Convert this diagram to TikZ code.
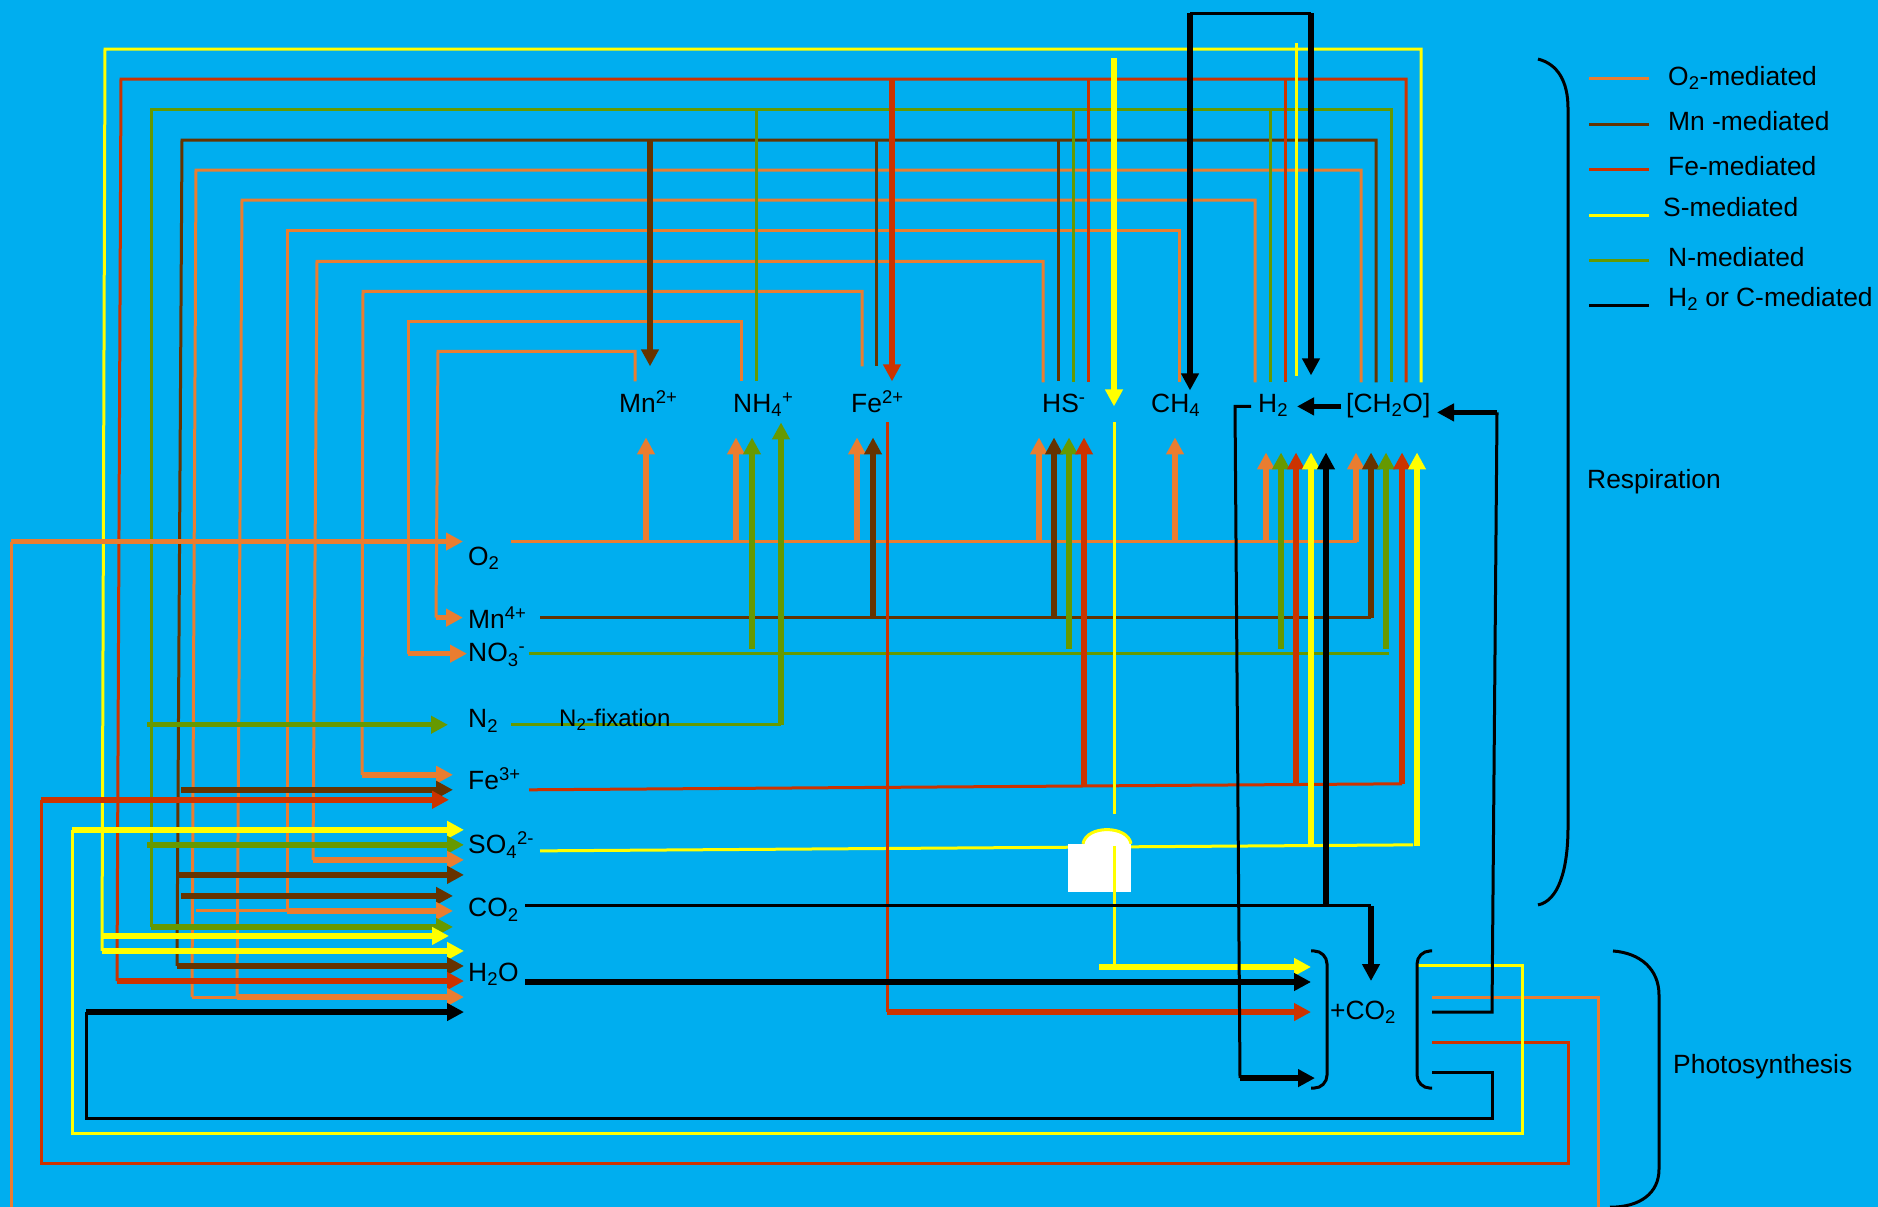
\documentclass[tikz,border=0pt]{standalone}
\usepackage{fontspec}
\setmainfont{Liberation Sans}
\usetikzlibrary{arrows.meta}

\definecolor{sea}{HTML}{00AEEF}
\definecolor{oxy}{HTML}{EA7D30}
\definecolor{man}{HTML}{663300}
\definecolor{iro}{HTML}{CC3300}
\definecolor{sul}{HTML}{FFFF00}
\definecolor{nit}{HTML}{669900}

\begin{document}
\begin{tikzpicture}[
        x=1pt, y=-1.001pt,
        >={Triangle[length=17pt,width=17pt]},
        wire/.style={line width=3pt},
        flow/.style={->, line width=5.5pt},
        curly/.style={line width=3pt, draw=black},
        species/.style={anchor=base west, inner sep=0pt, font=\fontsize{26.4}{30}\selectfont}
    ]

    \useasboundingbox (0,0) rectangle (1878,1204.8);
    \fill[sea] (-2,-2) rectangle (1880,1208);

    % loops from the right-hand column back to the left-hand column
    \foreach \nm/\col/\xb/\yb/\xt/\yt/\xr/\ye in {
        lpS/sul/102/950/105/49/1421/382, lpFe/iro/117/980/121/79/1406/382,
        lpN/nit/151/926/151/109/1391/382, lpMn/man/177/965/182/140/1376/382,
        lpA/oxy/192/996/196/170/1361/382, lpB/oxy/237/996/242/200/1255/382,
        lpC/oxy/287/910/287/230/1179/382, lpD/oxy/313/859/317/261/1043/382,
        lpE/oxy/362/774/363/291/862/366, lpF/oxy/408/653/408/321/741/381,
        lpG/oxy/436/617/438/351/635/381}{
        \coordinate (\nm s) at (\xb,\yb);
        \coordinate (\nm t) at (\xt,\yt);
        \coordinate (\nm u) at (\xr,\yt);
        \coordinate (\nm v) at (\xr,\ye);
        \draw[wire, draw=\col] (\nm s) -- (\nm t) -- (\nm u) -- (\nm v);
    }

    % thin straight wires
    \foreach \nm/\col/\xa/\ya/\xb/\yb in {
        nNH/nit/756/109/756/381, nHS/nit/1073/109/1073/382, nH/nit/1270/109/1270/382,
        feHS/iro/1088/79/1088/382, feH/iro/1285/79/1285/382,
        mnFe/man/876/140/876/366, mnHS/man/1058/140/1058/381,
        sH/sul/1296/43/1296/376,
        footA/oxy/192/996/237/996, footC/oxy/196/910/287/910,
        oLine/oxy/511/541/1357/541, mnLine/man/540/617/1371/617,
        noLine/nit/529/653/1389/653, fixLine/nit/511/724/781/724,
        feLine/iro/529/789/1402/783, soLine/sul/540/850/1413/844}{
        \coordinate (\nm a) at (\xa,\ya);
        \coordinate (\nm b) at (\xb,\yb);
        \draw[wire, draw=\col] (\nm a) -- (\nm b);
    }

    % the white cell
    \fill[white] (1068,843) rectangle (1131,891);
    \filldraw[wire, draw=sul, fill=white] (1083,843) .. controls (1086,824) and (1128,824) .. (1131,843);
    \fill[white] (1084,843) rectangle (1130,850);

    % thin wires over the cell and the lines from the right side
    \foreach \nm/\col/\xa/\ya/\xb/\yb in {
        feRise/iro/887/422/887/1011, sRise/sul/1114/422/1114/813, sCell/sul/1114/845/1114/966,
        topCH/black/1190/13/1311/13, co2Line/black/525/905/1371/905}{
        \coordinate (\nm a) at (\xa,\ya);
        \coordinate (\nm b) at (\xb,\yb);
        \draw[wire, draw=\col] (\nm a) -- (\nm b);
    }

    % returns under the picture
    \coordinate (rtOa) at (11,541);
    \coordinate (rtOb) at (11,1208);
    \coordinate (rtOc) at (1598,1208);
    \coordinate (rtOd) at (1598,996);
    \coordinate (rtOe) at (1432,996);
    \draw[wire, draw=oxy] (rtOa) -- (rtOb);
    \draw[wire, draw=oxy] (rtOc) -- (rtOd) -- (rtOe);
    \foreach \nm/\col/\xl/\yl/\yb/\xr/\yr/\xe in {
        rtFe/iro/41/799/1162/1568/1041/1432,
        rtS/sul/72/829/1132/1522/965/1417,
        rtC/black/86/1011/1117/1492/1071/1432}{
        \coordinate (\nm a) at (\xl,\yl);
        \coordinate (\nm b) at (\xl,\yb);
        \coordinate (\nm c) at (\xr,\yb);
        \coordinate (\nm d) at (\xr,\yr);
        \coordinate (\nm e) at (\xe,\yr);
        \draw[wire, draw=\col] (\nm a) -- (\nm b) -- (\nm c) -- (\nm d) -- (\nm e);
    }

    % horizontal arrows
    \foreach \nm/\col/\xa/\yy/\xb in {
        inO/oxy/11/541/463, inMn/oxy/436/617/463, inNO/oxy/408/653/467,
        inN/nit/147/724/448, inFeA/oxy/362/774/453, inFeB/man/181/789/453,
        inFeC/iro/41/799/449, inSA/sul/72/829/464, inSB/nit/147/844/464,
        inSC/oxy/313/859/464, inSD/man/177/874/464, inCA/man/181/895/453,
        inCB/oxy/287/910/453, inCC/nit/151/926/453, inCD/sul/102/935/449,
        inHA/sul/102/950/464, inHB/man/177/965/464, inHC/iro/117/980/464,
        inHD/oxy/237/996/464, inHE/black/86/1011/464,
        outS/sul/1099/966/1311, outW/black/525/981/1311, outFe/iro/887/1011/1311}{
        \coordinate (\nm a) at (\xa,\yy);
        \coordinate (\nm b) at (\xb,\yy);
        \draw[flow, draw=\col] (\nm a) -- (\nm b);
    }

    % vertical arrows
    \foreach \nm/\col/\xx/\ya/\yb in {
        upA/oxy/646/541/437, upB/oxy/736/541/437, upC/nit/752/648/437, upD/nit/781/724/422,
        upE/oxy/857/541/437, upF/man/873/617/437, upG/oxy/1039/541/437, upH/man/1054/617/437,
        upI/nit/1069/648/437, upJ/iro/1084/785/437, upK/oxy/1175/541/437,
        upL/oxy/1266/541/452, upM/nit/1281/648/452, upN/iro/1296/785/452, upO/sul/1311/845/452,
        upP/black/1326/905/452, upQ/oxy/1356/541/452, upR/man/1371/617/452, upS/nit/1386/648/452,
        upT/iro/1402/783/452, upU/sul/1417/845/452,
        dnMn/man/650/140/366, dnFe/iro/892/79/381, dnS/sul/1114/58/406,
        dnCH/black/1190/13/390, dnH/black/1311/13/375, dnC/black/1371/905/980}{
        \coordinate (\nm a) at (\xx,\ya);
        \coordinate (\nm b) at (\xx,\yb);
        \draw[flow, draw=\col] (\nm a) -- (\nm b);
    }

    % hydrogen and organic carbon
    \coordinate (hyA) at (1251,406);
    \coordinate (hyB) at (1235,406);
    \coordinate (hyC) at (1240,1077);
    \coordinate (hyD) at (1315,1077);
    \draw[wire] (hyA) -- (hyB) -- (hyC);
    \draw[flow] (hyC) -- (hyD);
    \coordinate (orgA) at (1341,406);
    \coordinate (orgB) at (1297,406);
    \draw[flow] (orgA) -- (orgB);
    \coordinate (riA) at (1432,1011);
    \coordinate (riB) at (1492,1011);
    \coordinate (riC) at (1497,412);
    \coordinate (riD) at (1437,412);
    \draw[wire] (riA) -- (riB) -- (riC);
    \draw[flow] (riC) -- (riD);

    % brackets
    \draw[curly, rounded corners=13pt] (1311,950) -- (1327,950) -- (1327,1087) -- (1311,1087);
    \draw[curly, rounded corners=13pt] (1432,950) -- (1417,950) -- (1417,1087) -- (1432,1087);
    \draw[curly] (1538,59) .. controls (1558,64) and (1568,82) .. (1568,108) -- (1568,826)
        .. controls (1568,870) and (1558,900) .. (1538,904);
    \draw[curly] (1613,950) .. controls (1640,952) and (1659,968) .. (1659,994) -- (1659,1168)
        .. controls (1659,1192) and (1640,1206) .. (1610,1206);

    % legend
    \foreach \nm/\col/\yy in {kO/oxy/78, kMn/man/124, kFe/iro/169, kS/sul/215, kN/nit/260, kC/black/305}{
        \coordinate (\nm a) at (1589,\yy);
        \coordinate (\nm b) at (1649,\yy);
        \draw[line width=3pt, draw=\col] (\nm a) -- (\nm b);
    }

    \node[species] (keyO) at (1668,85) {O\textsubscript{2}-mediated};
    \node[species] (keyMn) at (1668,130) {Mn -mediated};
    \node[species] (keyFe) at (1668,175) {Fe-mediated};
    \node[species] (keyS) at (1663,216) {S-mediated};
    \node[species] (keyN) at (1668,266) {N-mediated};
    \node[species] (keyC) at (1668,306) {H\textsubscript{2} or C-mediated};

    \node[species] (resp) at (1587,488) {Respiration};
    \node[species] (photo) at (1673,1072) {Photosynthesis};

    \node[species] (mn2) at (619,412) {Mn\textsuperscript{2+}};
    \node[species] (nh4) at (733,412) {NH\textsubscript{4}\textsuperscript{+}};
    \node[species] (fe2) at (851,412) {Fe\textsuperscript{2+}};
    \node[species] (hs) at (1042,412) {HS\textsuperscript{-}};
    \node[species] (ch4) at (1151,412) {CH\textsubscript{4}};
    \node[species] (h2) at (1258,412) {H\textsubscript{2}};
    \node[species] (ch2o) at (1346,412) {[CH\textsubscript{2}O]};

    \node[species] (o2) at (468,565) {O\textsubscript{2}};
    \node[species] (mn4) at (468,628) {Mn\textsuperscript{4+}};
    \node[species] (no3) at (468,661) {NO\textsubscript{3}\textsuperscript{-}};
    \node[species] (n2) at (468,727) {N\textsubscript{2}};
    \node[species] (fe3) at (468,789) {Fe\textsuperscript{3+}};
    \node[species] (so4) at (468,853) {SO\textsubscript{4}\textsuperscript{2-}};
    \node[species] (co2) at (468,916) {CO\textsubscript{2}};
    \node[species] (h2o) at (468,980) {H\textsubscript{2}O};
    \node[species] (plus) at (1330,1018) {+CO\textsubscript{2}};
    \node[species, font=\fontsize{24}{28}\selectfont] (fix) at (559,726) {N\textsubscript{2}-fixation};

\end{tikzpicture}
\end{document}
